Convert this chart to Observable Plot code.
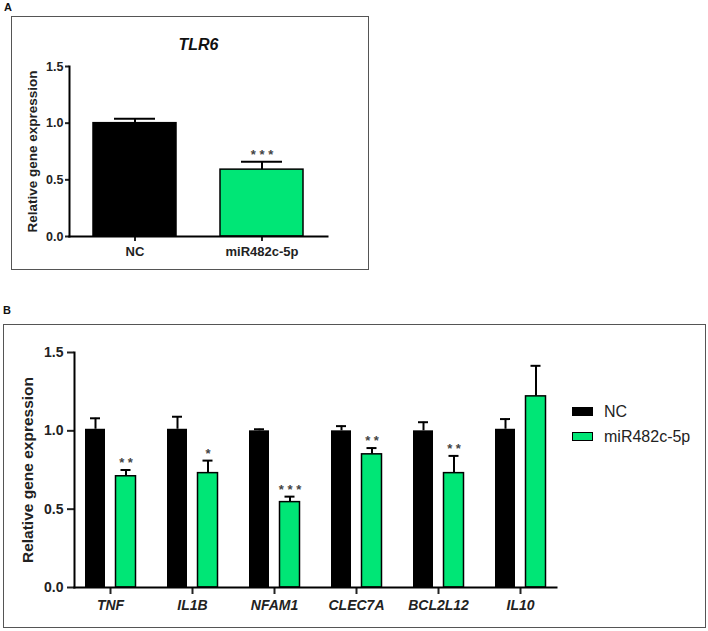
<!DOCTYPE html>
<html>
<head>
<meta charset="utf-8">
<script src="https://cdn.jsdelivr.net/npm/d3@7"></script>
<script src="https://cdn.jsdelivr.net/npm/@observablehq/plot@0.6"></script>
<style>
  body { margin: 0; background: #fff; }
  #root { position: relative; width: 708px; height: 631px; font-family: "Liberation Sans", Arial, sans-serif; color: #222; }
  .abs { position: absolute; }
  .box { position: absolute; border: 1.5px solid #555; box-sizing: border-box; }
  .plabel { position: absolute; font-weight: bold; font-size: 11px; line-height: 11px; color: #111; }
  .sw { position: absolute; width: 21px; height: 9px; box-sizing: border-box; }
  .lt { position: absolute; font-size: 16px; line-height: 16px; color: #222; }
  svg text { font-weight: bold; }
</style>
</head>
<body>
<div id="root"></div>
<script>
// ---------- Panel A data ----------
const tlr6Groups = ["NC", "miR482c-5p"];
const tlr6Mean = [1.00, 0.59];
const tlr6Sem = [0.04, 0.07];
const tlr6Sig = ["", "***"];

// ---------- Panel B data ----------
const genes = ["TNF", "IL1B", "NFAM1", "CLEC7A", "BCL2L12", "IL10"];
const ncMean = [1.01, 1.01, 1.00, 1.00, 1.00, 1.01];
const ncSem = [0.07, 0.08, 0.01, 0.03, 0.055, 0.065];
const mirMean = [0.71, 0.73, 0.545, 0.85, 0.73, 1.22];
const mirSem = [0.04, 0.08, 0.035, 0.04, 0.11, 0.195];
const mirSig = ["**", "*", "***", "**", "**", ""];

const yTicks = [0, 0.5, 1.0, 1.5];
const seriesNames = ["NC", "miR482c-5p"];
const colors = ["#000000", "#00E676"];

const root = document.getElementById("root");
function add(html) { root.insertAdjacentHTML("beforeend", html); }

// ---------- Panel A ----------
const rowsA = tlr6Groups.map((g, i) => ({g, m: tlr6Mean[i], e: tlr6Sem[i], sig: tlr6Sig[i], top: tlr6Mean[i] + tlr6Sem[i], c: colors[i]}));
const spaced = s => s.split("").join(" ");

const plotA = Plot.plot({
  width: 358, height: 254,
  marginLeft: 58, marginTop: 50, marginBottom: 34, marginRight: 42,
  style: {fontFamily: "Liberation Sans, Arial, sans-serif", fontSize: "13px", color: "#222", background: "transparent", overflow: "visible"},
  x: {domain: tlr6Groups, paddingInner: 0.344, paddingOuter: 0.1875},
  y: {domain: [0, 1.5]},
  marks: [
    Plot.ruleX(rowsA, {x: "g", y1: "m", y2: "top", stroke: "#000", strokeWidth: 2}),
    Plot.tickY(rowsA, {x: "g", y: "top", stroke: "#000", strokeWidth: 2, insetLeft: 21, insetRight: 21}),
    Plot.barY(rowsA, {x: "g", y: "m", fill: "c", stroke: "#000", strokeWidth: 1.5}),
    Plot.text(rowsA.filter(d => d.sig), {x: "g", y: "top", text: d => spaced(d.sig), dy: -7, fontSize: 13, fill: "#444", fontWeight: "normal"}),
    Plot.axisY({ticks: yTicks, tickFormat: ".1f", tickSize: 4, tickPadding: 2, strokeWidth: 2, label: null, fontSize: 12.5}),
    Plot.axisX({tickSize: 5, tickPadding: 5, strokeWidth: 2, label: null, fontSize: 13}),
    Plot.frame({anchor: "left", stroke: "#000", strokeWidth: 2}),
    Plot.frame({anchor: "bottom", stroke: "#000", strokeWidth: 2}),
    Plot.text(["Relative gene expression"], {frameAnchor: "left", textAnchor: "middle", rotate: -90, dx: -37, fontSize: 13.5, fill: "#222"}),
    Plot.text(["TLR6"], {frameAnchor: "top", dy: -28, fontSize: 16, fontStyle: "italic", fill: "#111"})
  ]
});

// ---------- Panel B ----------
const rowsB = genes.map((g, i) => ({g, nc: ncMean[i], ncTop: ncMean[i] + ncSem[i], mir: mirMean[i], mirTop: mirMean[i] + mirSem[i], sig: mirSig[i]}));

const plotB = Plot.plot({
  width: 703, height: 304,
  marginLeft: 71, marginTop: 28, marginBottom: 41, marginRight: 150,
  style: {fontFamily: "Liberation Sans, Arial, sans-serif", fontSize: "14px", color: "#222", background: "transparent", overflow: "visible"},
  x: {domain: genes, range: [66, 558], padding: 0},
  y: {domain: [0, 1.5]},
  marks: [
    Plot.ruleX(rowsB, {x: "g", y1: "nc", y2: "ncTop", dx: -15, stroke: "#000", strokeWidth: 2}),
    Plot.tickY(rowsB, {x: "g", y: "ncTop", stroke: "#000", strokeWidth: 2, insetLeft: 21, insetRight: 51}),
    Plot.ruleX(rowsB, {x: "g", y1: "mir", y2: "mirTop", dx: 15.5, stroke: "#000", strokeWidth: 2}),
    Plot.tickY(rowsB, {x: "g", y: "mirTop", stroke: "#000", strokeWidth: 2, insetLeft: 51.5, insetRight: 20.5}),
    Plot.barY(rowsB, {x: "g", y: "nc", fill: colors[0], insetLeft: 16, insetRight: 46}),
    Plot.barY(rowsB, {x: "g", y: "mir", fill: colors[1], stroke: "#000", strokeWidth: 1.5, insetLeft: 46.5, insetRight: 15.5}),
    Plot.text(rowsB.filter(d => d.sig), {x: "g", y: "mirTop", dx: 15.5, dy: -7, text: d => spaced(d.sig), fontSize: 13, fill: "#444", fontWeight: "normal"}),
    Plot.axisY({ticks: yTicks, tickFormat: ".1f", tickSize: 7, tickPadding: 4, strokeWidth: 2, label: null, fontSize: 14}),
    Plot.axisX({tickSize: 7, tickPadding: 6, strokeWidth: 2, label: null, fontSize: 14, fontStyle: "italic"}),
    Plot.frame({anchor: "left", stroke: "#000", strokeWidth: 2}),
    Plot.frame({anchor: "bottom", stroke: "#000", strokeWidth: 2}),
    Plot.text(["Relative gene expression"], {frameAnchor: "left", textAnchor: "middle", rotate: -90, dx: -46, fontSize: 15.5, fill: "#222"})
  ]
});

// ---------- Layout ----------
add(`<div class="plabel" style="left:4px; top:2px;">A</div>`);
add(`<div class="box" style="left:11px; top:16px; width:358px; height:254px;"></div>`);
add(`<div class="plabel" style="left:3px; top:304.5px;">B</div>`);
add(`<div class="box" style="left:3px; top:324px; width:703px; height:304px;"></div>`);

const wrapA = document.createElement("div");
wrapA.className = "abs"; wrapA.style.left = "11px"; wrapA.style.top = "16px";
wrapA.appendChild(plotA); root.appendChild(wrapA);

const wrapB = document.createElement("div");
wrapB.className = "abs"; wrapB.style.left = "3px"; wrapB.style.top = "324px";
wrapB.appendChild(plotB); root.appendChild(wrapB);

// ---------- Legend (panel B) ----------
const legendTops = [406.5, 431.5];
seriesNames.forEach((name, i) => {
  const border = i === 1 ? "border:1.8px solid #000;" : "";
  add(`<div class="sw" style="left:572px; top:${legendTops[i]}px; background:${colors[i]}; ${border}"></div>`);
  add(`<div class="lt" style="left:604px; top:${legendTops[i] - 3}px;">${name}</div>`);
});
</script>
</body>
</html>
